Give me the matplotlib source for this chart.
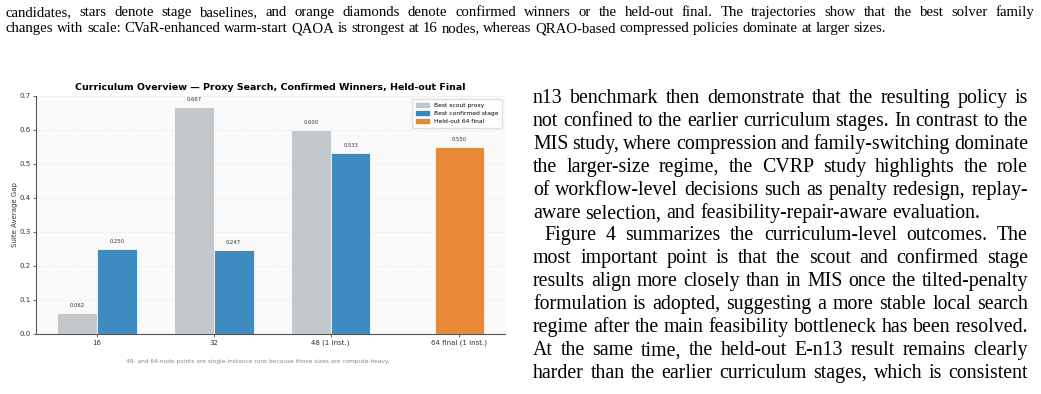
"""Page snippet with the curriculum overview bar chart and surrounding paper text"""
import math
import matplotlib
matplotlib.use('Agg')
import matplotlib.pyplot as plt
from matplotlib.patches import Patch

W, H = 1041, 394

# chart data
stages = ['16', '32', '48 (1 inst.)', '64 final (1 inst.)']
stage_pos = [0, 1, 2, 3.1]
scout_vals = [0.062, 0.667, 0.600]
confirmed_vals = [0.250, 0.247, 0.533]
final_val = 0.550

top_lines = [
    'candidates, stars denote stage baselines, and orange diamonds denote confirmed winners or the held-out final. The trajectories show that the best solver family',
    'changes with scale: CVaR-enhanced warm-start QAOA is strongest at 16 nodes, whereas QRAO-based compressed policies dominate at larger sizes.',
]
right_lines = [
    'n13 benchmark then demonstrate that the resulting policy is',
    'not confined to the earlier curriculum stages. In contrast to the',
    'MIS study, where compression and family-switching dominate',
    'the larger-size regime, the CVRP study highlights the role',
    'of workflow-level decisions such as penalty redesign, replay-',
    'aware selection, and feasibility-repair-aware evaluation.',
    'Figure 4 summarizes the curriculum-level outcomes. The',
    'most important point is that the scout and confirmed stage',
    'results align more closely than in MIS once the tilted-penalty',
    'formulation is adopted, suggesting a more stable local search',
    'regime after the main feasibility bottleneck has been resolved.',
    'At the same time, the held-out E-n13 result remains clearly',
    'harder than the earlier curriculum stages, which is consistent',
]

fig = plt.figure(figsize=(W / 100, H / 100), dpi=100)
renderer = fig.canvas.get_renderer()


def put_line(text, x0, x1, ybase, size, justify=True):
    # words placed one by one so the line can be justified
    words = text.split()
    ybase = round(ybase)
    arts = [fig.text(0, 0, w, fontsize=size, family='Liberation Serif',
                     va='baseline', ha='left', color='black') for w in words]
    widths = [a.get_window_extent(renderer).width for a in arts]
    if justify and len(words) > 1:
        gap = (x1 - x0 - sum(widths)) / (len(words) - 1)
    else:
        gap = 0.25 * size * 100 / 72
    x = x0
    for a, wd, w in zip(arts, widths, words):
        # keep every word's glyph bitmap on the same pixel baseline
        d = renderer.get_text_width_height_descent(w, a.get_fontproperties(), ismath=False)[2]
        yw = ybase + math.ceil(d) - d
        a.set_position((x / W, 1 - yw / H))
        x += wd + gap


# text above the chart
put_line(top_lines[0], 6, 1034, 16, 10.6)
put_line(top_lines[1], 6, 1034, 32, 10.6, justify=False)

# right column
for i, line in enumerate(right_lines):
    x0 = 544 if line.startswith('Figure 4') else 533
    just = not line.endswith('evaluation.')
    put_line(line, x0, 1028, 103 + i * 22.9, 14.3, justify=just)

# chart
ax = fig.add_axes([36 / W, 1 - 334 / H, (505 - 36) / W, (334 - 96) / H])
ax.set_facecolor('#fafafa')
grey, blue, orange = '#bdc3c7', '#2980b9', '#e67e22'
bw = 0.34
xs = stage_pos[:3]
b1 = ax.bar([x - bw / 2 for x in xs], scout_vals, bw, color=grey, alpha=0.9,
            edgecolor='white', linewidth=0.6, label='Best scout proxy', zorder=3)
b2 = ax.bar([x + bw / 2 for x in xs], confirmed_vals, bw, color=blue, alpha=0.9,
            edgecolor='white', linewidth=0.6, label='Best confirmed stage', zorder=3)
b3 = ax.bar([stage_pos[3]], [final_val], 0.42, color=orange, alpha=0.9,
            edgecolor='white', linewidth=0.6, label='Held-out 64 final', zorder=3)
for bars in (b1, b2, b3):
    for r in bars:
        ax.text(r.get_x() + r.get_width() / 2, r.get_height() + 0.015,
                f'{r.get_height():.3f}', ha='center', va='bottom',
                fontsize=3.8, color='#333333')

ax.set_xticks(stage_pos)
ax.set_xticklabels(stages)
ax.set_xlim(-0.52, 3.49)
ax.set_ylim(0, 0.7)
ax.set_yticks([0.0, 0.1, 0.2, 0.3, 0.4, 0.5, 0.6, 0.7])
ax.tick_params(labelsize=5, length=2, width=0.5, pad=2, colors='#333333')
ax.grid(axis='y', linestyle='--', linewidth=0.4, color='#dddddd', alpha=0.7, zorder=0)
for s in ('top', 'right'):
    ax.spines[s].set_visible(False)
for s in ('left', 'bottom'):
    ax.spines[s].set_color('#555555')
    ax.spines[s].set_linewidth(0.8)
ax.set_ylabel('Suite Average Gap', fontsize=5, color='#333333', labelpad=1)
ax.set_title('Curriculum Overview — Proxy Search, Confirmed Winners, Held-out Final',
             fontsize=6.8, fontweight='bold', pad=4)
ax.legend(handles=[Patch(color=grey, alpha=0.9, label='Best scout proxy'),
                   Patch(color=blue, alpha=0.9, label='Best confirmed stage'),
                   Patch(color=orange, alpha=0.9, label='Held-out 64 final')],
          loc='upper right', fontsize=4.3, frameon=True, framealpha=0.9,
          edgecolor='#dddddd', handlelength=2.2, borderpad=0.6, labelspacing=0.5)

fig.text(258 / W, 1 - 361 / H,
         '48- and 64-node points are single-instance runs because those sizes are compute-heavy.',
         ha='center', va='center', fontsize=4.2, color='#7f8c8d')

fig.savefig('out.png', dpi=100)
